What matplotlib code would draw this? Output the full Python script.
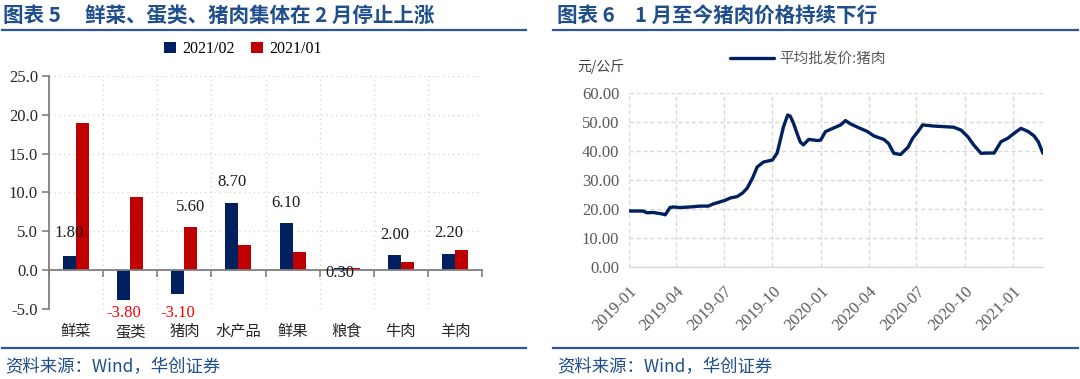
import matplotlib
matplotlib.use('Agg')
import matplotlib.pyplot as plt
import matplotlib.dates as mdates
from matplotlib.lines import Line2D
from matplotlib.ticker import FormatStrFormatter
import numpy as np
import pandas as pd

# ---------------- data ----------------
categories = ['鲜菜', '蛋类', '猪肉', '水产品', '鲜果', '粮食', '牛肉', '羊肉']
feb_2021 = [1.8, -3.8, -3.1, 8.7, 6.1, 0.3, 1.9, 2.1]
jan_2021 = [19.0, 9.4, 5.6, 3.3, 2.3, 0.3, 1.1, 2.6]
feb_labels = ['1.80', '-3.80', '-3.10', '8.70', '6.10', '0.30', '2.00', '2.20']
extra_label_cat = '猪肉'
extra_label_text = '5.60'
series_names = ['2021/02', '2021/01']
left_yticks = [-5, 0, 5, 10, 15, 20, 25]

pork_dates = ['2019-01-01', '2019-01-03', '2019-01-28', '2019-02-04', '2019-02-16', '2019-03-05',
              '2019-03-11', '2019-03-20', '2019-03-26', '2019-04-08', '2019-04-27', '2019-05-16',
              '2019-06-01', '2019-06-10', '2019-06-24', '2019-07-03', '2019-07-13', '2019-07-26',
              '2019-08-05', '2019-08-14', '2019-08-24', '2019-09-02', '2019-09-14', '2019-10-01',
              '2019-10-10', '2019-10-16', '2019-10-22', '2019-10-30', '2019-11-04', '2019-11-10',
              '2019-11-18', '2019-11-23', '2019-11-29', '2019-12-09', '2019-12-26', '2020-01-01',
              '2020-01-10', '2020-01-25', '2020-02-08', '2020-02-17', '2020-02-27', '2020-03-11',
              '2020-03-30', '2020-04-11', '2020-04-30', '2020-05-09', '2020-05-19', '2020-06-01',
              '2020-06-15', '2020-06-24', '2020-07-04', '2020-07-13', '2020-08-03', '2020-08-22',
              '2020-09-10', '2020-09-24', '2020-10-07', '2020-10-18', '2020-11-01', '2020-11-14',
              '2020-11-26', '2020-12-09', '2020-12-22', '2021-01-03', '2021-01-16', '2021-01-30',
              '2021-02-10', '2021-02-18', '2021-02-27']
pork_price = [19.3, 19.3, 19.3, 18.7, 18.8, 18.3,
              18.0, 20.5, 20.7, 20.5, 20.7, 21.0,
              21.0, 21.7, 22.5, 23.0, 23.8, 24.3,
              25.5, 27.2, 30.6, 34.5, 36.2, 36.9,
              39.3, 43.8, 48.3, 52.4, 52.0, 49.6,
              45.5, 43.1, 42.1, 44.0, 43.6, 43.8,
              46.7, 47.9, 49.0, 50.5, 49.3, 48.2,
              46.7, 45.2, 44.0, 42.6, 39.2, 38.8,
              41.3, 44.4, 46.7, 49.0, 48.6, 48.4,
              48.2, 47.2, 44.9, 42.1, 39.2, 39.3,
              39.3, 43.2, 44.4, 46.1, 47.8, 46.7,
              45.2, 43.2, 39.2]
pork_series_name = '平均批发价:猪肉'
right_yticks = [0, 10, 20, 30, 40, 50, 60]
right_xticks = ['2019-01', '2019-04', '2019-07', '2019-10', '2020-01',
                '2020-04', '2020-07', '2020-10', '2021-01']
unit_label = '元/公斤'

title_left_num = '图表 5'
title_left = '鲜菜、蛋类、猪肉集体在 2 月停止上涨'
title_right_num = '图表 6'
title_right = '1 月至今猪肉价格持续下行'
source_text = '资料来源：Wind，华创证券'

# ---------------- style ----------------
CJK = ['Noto Sans CJK SC', 'DejaVu Sans']
SERIF = ['Liberation Serif', 'DejaVu Serif']
NAVY = '#002060'
RED = '#C00000'
TITLE_BLUE = '#1F4E8C'
LINE_BLUE = '#2F5597'

W, H = 1080, 379
fig = plt.figure(figsize=(W / 100, H / 100), dpi=100)


def fx(px):
    return px / W


def fy(py):
    return 1 - py / H


# titles, rules, sources
for xn, xt, num, txt in [(3, 85, title_left_num, title_left),
                         (557, 635, title_right_num, title_right)]:
    fig.text(fx(xn), fy(15), num, family=CJK, fontsize=14.8, fontweight='bold',
             color=TITLE_BLUE, va='center', ha='left')
    fig.text(fx(xt), fy(15), txt, family=CJK, fontsize=14.8, fontweight='bold',
             color=TITLE_BLUE, va='center', ha='left')
for x0, x1 in [(2, 526), (553, 1078)]:
    fig.add_artist(Line2D([fx(x0), fx(x1)], [fy(30), fy(30)], color=LINE_BLUE, lw=1.6))
    fig.add_artist(Line2D([fx(x0), fx(x1)], [fy(348), fy(348)], color=LINE_BLUE, lw=1.6))
for xs in [5, 557]:
    fig.text(fx(xs), fy(367), source_text, family=CJK, fontsize=12.5, style='italic',
             color=TITLE_BLUE, va='center', ha='left')

# ---------------- left chart ----------------
ax1 = fig.add_axes([fx(49), fy(309), fx(433), 233 / H])
x = np.arange(len(categories))
w = 0.24
bars_feb = ax1.bar(x - 0.12, feb_2021, w, color=NAVY, zorder=3)
bars_jan = ax1.bar(x + 0.12, jan_2021, w, color=RED, zorder=3)
ax1.set_xlim(-0.5, len(categories) - 0.5)
ax1.set_ylim(-5, 25)
ax1.set_yticks(left_yticks)
ax1.yaxis.set_major_formatter(FormatStrFormatter('%.1f'))
for s in ['top', 'right']:
    ax1.spines[s].set_visible(False)
ax1.spines['left'].set_color('#7F7F7F')
ax1.spines['left'].set_linewidth(1.3)
ax1.spines['bottom'].set_position(('data', 0))
ax1.spines['bottom'].set_color('#7F7F7F')
ax1.spines['bottom'].set_linewidth(1.3)
ax1.spines['bottom'].set_zorder(4)
ax1.set_xticks(x)
ax1.set_xticklabels(categories, family=CJK, fontsize=11, color='#262626')
ax1.set_xticks(np.arange(-0.5, len(categories), 1), minor=True)
ax1.tick_params(axis='x', which='major', length=0, pad=38)
ax1.tick_params(axis='x', which='minor', length=5, width=1.2, color='#7F7F7F', direction='out')
ax1.tick_params(axis='y', length=5, width=1.2, color='#7F7F7F', direction='out', pad=3,
                labelsize=12, labelcolor='#262626')
for lab in ax1.get_yticklabels():
    lab.set_family(SERIF)
ax1.set_axisbelow(True)
ax1.grid(which='minor', axis='x', ls=(0, (1, 2.5)), color='#DCDCC8', lw=1.0)
ax1.grid(which='major', axis='y', ls=(0, (1, 2.5)), color='#DCDCC8', lw=1.0)

label_dy = [17, -9.5, -13.5, 14.5, 14, -3.5, 15, 15]
for bar, txt, v, dy in zip(bars_feb, feb_labels, feb_2021, label_dy):
    col = '#FF0000' if v < 0 else '#1A1A1A'
    ax1.annotate(txt, (bar.get_x() + bar.get_width() / 2, v), xytext=(0, dy),
                 textcoords='offset points', ha='center', va='center',
                 family=SERIF, fontsize=12, color=col, zorder=5)
idx = categories.index(extra_label_cat)
b = bars_jan[idx]
ax1.annotate(extra_label_text, (b.get_x() + b.get_width() / 2, jan_2021[idx]), xytext=(0, 14.5),
             textcoords='offset points', ha='center', va='center',
             family=SERIF, fontsize=12, color='#1A1A1A', zorder=5)

fig.legend([bars_feb, bars_jan], series_names, loc='center', bbox_to_anchor=(fx(243), fy(49)),
           ncol=2, frameon=False, handlelength=0.75, handleheight=0.75, handletextpad=0.4,
           columnspacing=1.0, borderpad=0, prop={'family': SERIF, 'size': 11.5})

# ---------------- right chart ----------------
ax2 = fig.add_axes([fx(629), fy(267), fx(414), 174 / H])
dates = pd.to_datetime(pork_dates)
line, = ax2.plot(dates, pork_price, color=NAVY, lw=2.4, solid_capstyle='round', zorder=3)
ax2.set_ylim(0, 60)
ax2.set_xlim(dates[0], dates[-1])
ax2.set_yticks(right_yticks)
ax2.yaxis.set_major_formatter(FormatStrFormatter('%.2f'))
ax2.set_xticks(pd.to_datetime(right_xticks))
ax2.xaxis.set_major_formatter(mdates.DateFormatter('%Y-%m'))
for s in ['top', 'right', 'left']:
    ax2.spines[s].set_visible(False)
ax2.spines['bottom'].set_color('#D9D9D9')
ax2.spines['bottom'].set_linewidth(1.0)
ax2.tick_params(axis='both', length=0, labelsize=12, labelcolor='#595959')
ax2.tick_params(axis='y', pad=7)
ax2.tick_params(axis='x', pad=12)
for lab in ax2.get_xticklabels():
    lab.set_family(SERIF)
    lab.set_rotation(45)
    lab.set_ha('right')
    lab.set_rotation_mode('anchor')
for lab in ax2.get_yticklabels():
    lab.set_family(SERIF)
ax2.set_axisbelow(True)
ax2.grid(True, ls=(0, (3, 2)), color='#D9D9D9', lw=1.0)

fig.text(fx(577), fy(67), unit_label, family=CJK, fontsize=10, color='#404040',
         ha='left', va='center')
fig.legend([line], [pork_series_name], loc='center left', bbox_to_anchor=(fx(730), fy(59)),
           frameon=False, handlelength=3.0, handletextpad=0.4, borderpad=0, borderaxespad=0,
           prop={'family': CJK, 'size': 10.5}, labelcolor='#595959')

fig.savefig('out.png', dpi=100)
